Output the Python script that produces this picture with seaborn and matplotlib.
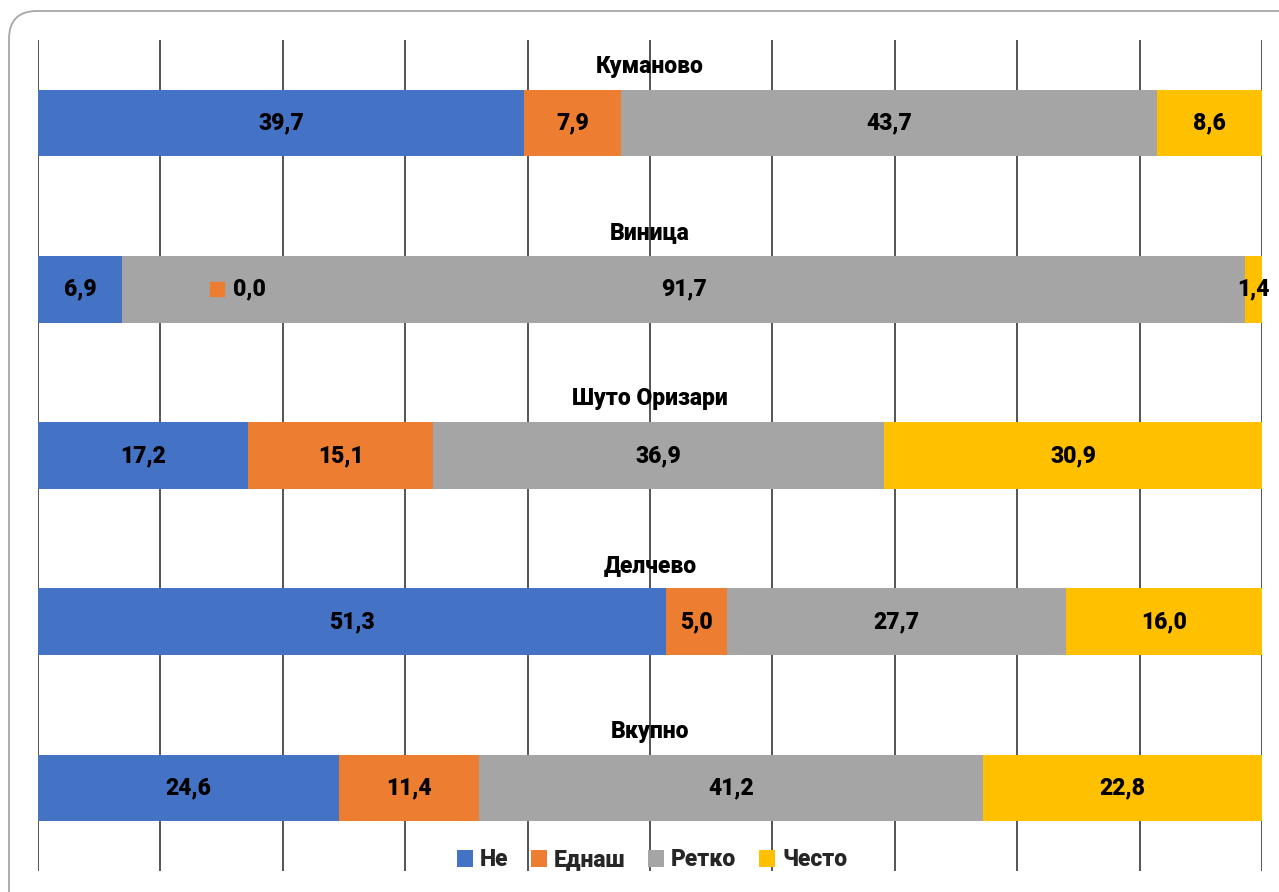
import matplotlib
matplotlib.use('Agg')
import matplotlib.pyplot as plt
from matplotlib.patches import FancyBboxPatch, Patch
import seaborn as sns
import numpy as np
import pandas as pd

# data (percent)
cities = ['Куманово', 'Виница', 'Шуто Оризари', 'Делчево', 'Вкупно']
series = ['Не', 'Еднаш', 'Ретко', 'Често']
ne = [39.7, 6.9, 17.2, 51.3, 24.6]
ednash = [7.9, 0.0, 15.1, 5.0, 11.4]
retko = [43.7, 91.7, 36.9, 27.7, 41.2]
chesto = [8.6, 1.4, 30.9, 16.0, 22.8]
colors = ['#4472C4', '#ED7D31', '#A5A5A5', '#FFC000']

sns.set_theme(style='white')
plt.rcParams['font.family'] = ['Roboto', 'DejaVu Sans']

df = pd.DataFrame({'city': cities, 'Не': ne, 'Еднаш': ednash, 'Ретко': retko, 'Често': chesto})
vals = df[series].to_numpy()
# 100% stacked
shares = vals / vals.sum(axis=1, keepdims=True) * 100
cum = np.cumsum(shares, axis=1)

fig = plt.figure(figsize=(12.79, 8.92), dpi=100)

# rounded frame behind everything
bg = fig.add_axes([0, 0, 1, 1], zorder=-1)
bg.set_xlim(0, 1279)
bg.set_ylim(892, 0)
bg.axis('off')
bg.add_patch(FancyBboxPatch((9, 11), 1300, 920, boxstyle='round,pad=0,rounding_size=28',
                            fc='white', ec='#A6A6A6', lw=1.3))

ax = fig.add_axes([38 / 1279, 1 - 871 / 892, (1262 - 38) / 1279, (871 - 40) / 892])
ax.patch.set_alpha(0)

# draw cumulative bars from the last series backwards so they stack
for i in range(len(series) - 1, -1, -1):
    plot_df = pd.DataFrame({'city': cities, 'cum': cum[:, i]})
    sns.barplot(data=plot_df, x='cum', y='city', color=colors[i], width=0.4,
                saturation=1, edgecolor='none', linewidth=0, ax=ax, zorder=2)

ax.set_xlim(0, 100)
ax.set_ylim(4.5, -0.5)
ax.set_xticks(np.arange(0, 101, 10))
ax.grid(axis='x', color='#262626', lw=1.1)
ax.grid(axis='y', visible=False)
ax.set_axisbelow(True)
ax.tick_params(left=False, bottom=False, labelleft=False, labelbottom=False)
ax.set_xlabel('')
ax.set_ylabel('')
for s in ax.spines.values():
    s.set_visible(False)

fs = 16.5
wt = 'heavy'
for r, city in enumerate(cities):
    ax.text(50, r - 0.34, city, ha='center', va='center', fontsize=fs,
            fontweight=wt, color='black', zorder=5)
    for i in range(len(series)):
        v = vals[r, i]
        start = cum[r, i] - shares[r, i]
        label = f'{v:.1f}'.replace('.', ',')
        if v == 0:
            # zero label shown with its legend key, moved into the next segment
            ax.plot(start + 7.7, r, marker='s', ms=10, color=colors[i], ls='none', zorder=5)
            ax.text(start + 9.0, r, label, ha='left', va='center', fontsize=fs,
                    fontweight=wt, color='black', zorder=5)
        else:
            ax.text(start + shares[r, i] / 2, r, label, ha='center', va='center',
                    fontsize=fs, fontweight=wt, color='black', zorder=5)

handles = [Patch(facecolor=c, edgecolor='none') for c in colors]
fig.legend(handles, series, loc='center', bbox_to_anchor=(652 / 1279, 1 - 860 / 892),
           ncol=4, frameon=False, handlelength=0.7, handleheight=0.7,
           handletextpad=0.3, columnspacing=1.0,
           prop={'size': fs, 'weight': wt})

fig.savefig('out.png', dpi=100)
plt.close(fig)
